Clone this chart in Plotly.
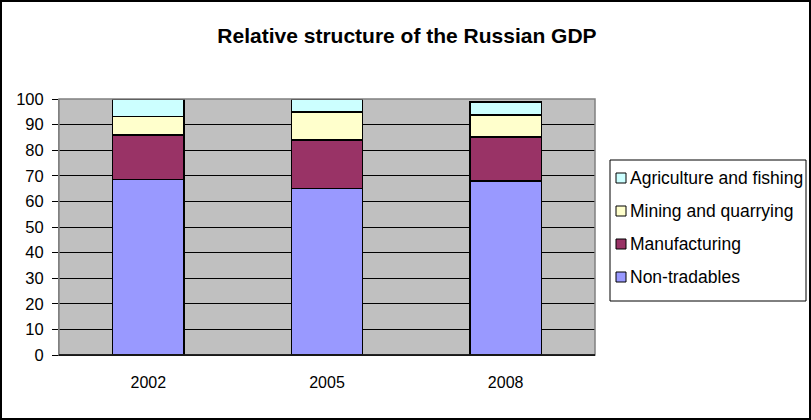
import plotly.graph_objects as go

years = ["2002", "2005", "2008"]
non_tradables = [68.6, 65.0, 68.0]
manufacturing = [17.3, 19.0, 17.2]
mining = [7.2, 10.9, 8.5]
agriculture = [6.9, 5.1, 5.1]

series_names = ["Non-tradables", "Manufacturing", "Mining and quarrying", "Agriculture and fishing"]
series_values = [non_tradables, manufacturing, mining, agriculture]
series_colors = ["#9999FF", "#993366", "#FFFFCC", "#CCFFFF"]

W, H = 811, 420
ml, mr, mt, mb = 59, 216, 99, 65
pw = W - ml - mr
ph = H - mt - mb


def px_x(p):
    return (p - ml) / pw


def px_y(p):
    return (H - mb - p) / ph


fig = go.Figure()
for name, vals, col in zip(series_names, series_values, series_colors):
    fig.add_trace(go.Bar(
        x=years, y=vals, name=name, width=0.4,
        marker=dict(color=col, line=dict(color="black", width=1.5)),
        showlegend=False,
    ))

fig.update_layout(
    width=W, height=H,
    margin=dict(l=ml, r=mr, t=mt, b=mb, autoexpand=False),
    barmode="stack",
    paper_bgcolor="white",
    plot_bgcolor="#C0C0C0",
    font=dict(family="Liberation Sans, Arial, sans-serif", size=16, color="black"),
    title=dict(text="<b>Relative structure of the Russian GDP</b>",
               x=407 / W, xanchor="center", y=1 - 36 / H, yanchor="middle",
               font=dict(size=21, color="black")),
    showlegend=False,
    xaxis=dict(
        showgrid=False, showline=True, linecolor="black", linewidth=1,
        ticks="", ticklabelstandoff=13, tickfont=dict(size=16),
    ),
    yaxis=dict(
        range=[0, 100], dtick=10, tick0=0,
        showgrid=True, gridcolor="black", gridwidth=1,
        showline=True, linecolor="#808080", linewidth=1,
        ticks="outside", ticklen=6, tickcolor="black",
        ticklabelstandoff=5,
        tickfont=dict(size=16.5), zeroline=False,
    ),
    bargap=0.6,
)

# plot area grey border
fig.add_shape(type="rect", xref="paper", yref="paper", x0=0, y0=0, x1=1, y1=1,
              line=dict(color="#808080", width=1.5), layer="above")
# bottom axis line
fig.add_shape(type="line", xref="paper", yref="paper", x0=0, y0=0, x1=1, y1=0,
              line=dict(color="black", width=1.5), layer="above")
# outer chart border
fig.add_shape(type="rect", xref="paper", yref="paper",
              x0=px_x(1), y0=px_y(419), x1=px_x(810), y1=px_y(1),
              line=dict(color="black", width=2))

# legend (Excel style: top entry is the top of the stack)
fig.add_shape(type="rect", xref="paper", yref="paper",
              x0=px_x(610), y0=px_y(301), x1=px_x(806), y1=px_y(160),
              line=dict(color="black", width=1), fillcolor="white")
entry_y = [277, 244, 211, 178]
for name, col, cy in zip(series_names, series_colors, entry_y):
    fig.add_shape(type="rect", xref="paper", yref="paper",
                  x0=px_x(616), x1=px_x(626), y0=px_y(cy + 5), y1=px_y(cy - 5),
                  line=dict(color="black", width=1), fillcolor=col)
    fig.add_annotation(text=name, xref="paper", yref="paper",
                       x=px_x(628), y=px_y(cy), xanchor="left", yanchor="middle",
                       showarrow=False, font=dict(size=17.5, color="black"))

fig.write_html("out.html", config={"displayModeBar": False},
               post_script="document.body.style.margin='0';")
